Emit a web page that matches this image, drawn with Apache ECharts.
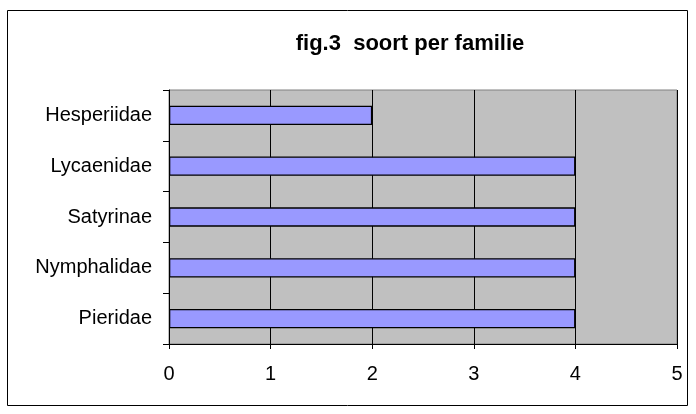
<!DOCTYPE html>
<html>
<head>
<meta charset="utf-8">
<script src="https://cdn.jsdelivr.net/npm/echarts@6/dist/echarts.min.js"></script>
<style>
  html,body{margin:0;padding:0;background:#fff;}
  #chart{width:696px;height:414px;}
</style>
</head>
<body>
<div id="chart"></div>
<script>
// categories bottom -> top
var families = ['Pieridae', 'Nymphalidae', 'Satyrinae', 'Lycaenidae', 'Hesperiidae']
var counts = [4, 4, 4, 4, 2]
var titleText = 'fig.3  soort per familie'

var chart = echarts.init(document.getElementById('chart'))
var font = 'Liberation Sans, Arial, sans-serif'

chart.setOption({
  animation: false,
  backgroundColor: '#fff',
  title: {
    text: titleText,
    left: 405,
    top: 28,
    textAlign: 'center',
    textStyle: { fontFamily: font, fontSize: 22, fontWeight: 'bold', color: '#000' }
  },
  graphic: [{
    type: 'rect',
    shape: { x: 7.5, y: 10.5, width: 680, height: 395 },
    style: { fill: 'none', stroke: '#000', lineWidth: 1 },
    silent: true
  }],
  grid: {
    left: 169, right: 19, top: 90, bottom: 70,
    show: true,
    backgroundColor: '#c0c0c0',
    borderColor: '#808080',
    borderWidth: 1
  },
  xAxis: {
    type: 'value',
    min: 0, max: 5, interval: 1,
    axisLine: { show: true, lineStyle: { color: '#000', width: 1 } },
    axisTick: { show: true, length: 5, lineStyle: { color: '#000' } },
    axisLabel: { fontFamily: font, fontSize: 20, color: '#000', margin: 20 },
    splitLine: { show: true, lineStyle: { color: '#000', width: 1 } }
  },
  yAxis: {
    type: 'category',
    data: families,
    axisLine: { show: true, lineStyle: { color: '#000', width: 1 } },
    axisTick: { show: true, length: 6, lineStyle: { color: '#000' } },
    axisLabel: { fontFamily: font, fontSize: 20, color: '#000', margin: 17 },
    splitLine: { show: false }
  },
  series: [{
    type: 'bar',
    data: counts,
    barCategoryGap: '62%',
    itemStyle: { color: '#9999ff', borderColor: '#000', borderWidth: 1.3 }
  }]
})
</script>
</body>
</html>
